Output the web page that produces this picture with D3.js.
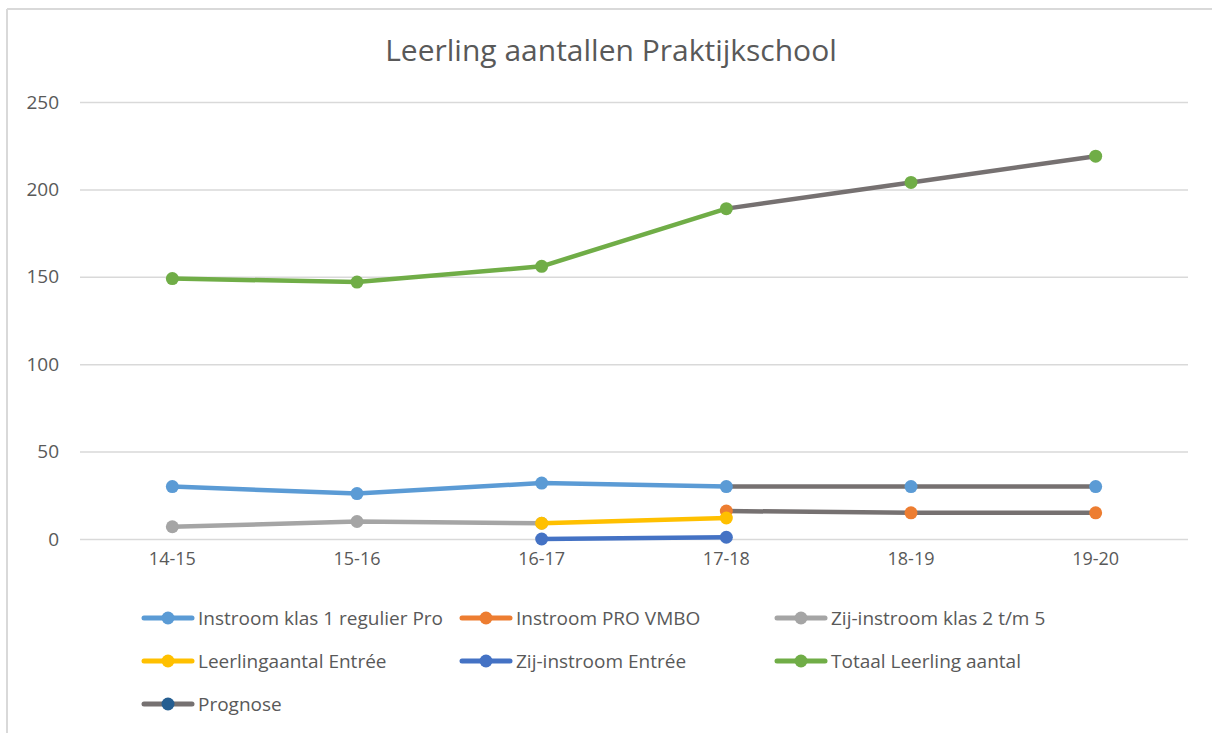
<!DOCTYPE html>
<html>
<head>
<meta charset="utf-8">
<script src="https://cdn.jsdelivr.net/npm/d3@7"></script>
<style>
  body { margin: 0; background: #fff; }
  svg { display: block; font-family: "Open Sans", sans-serif; }
</style>
</head>
<body>
<script>
// data
var years = ["14-15", "15-16", "16-17", "17-18", "18-19", "19-20"];
var yTicks = [0, 50, 100, 150, 200, 250];

var instroomKlas1 = [30, 26, 32, 30, 30, 30];
var instroomProVmbo = [null, null, null, 16, 15, 15];
var zijInstroomKlas2 = [7, 10, 9, null, null, null];
var leerlingEntree = [null, null, 9, 12, null, null];
var zijInstroomEntree = [null, null, 0, 1, null, null];
var totaal = [149, 147, 156, 189, 204, 219];

// from this year on the values are a forecast (grey line)
var prognoseFrom = 3;

var names = ["Instroom klas 1 regulier Pro", "Instroom PRO VMBO", "Zij-instroom klas 2 t/m 5",
             "Leerlingaantal Entrée", "Zij-instroom Entrée", "Totaal Leerling aantal", "Prognose"];
var colors = ["#5B9BD5", "#ED7D31", "#A5A5A5", "#FFC000", "#4472C4", "#70AD47", "#767171"];
var prognoseMarker = "#255E91";

var allSeries = [instroomKlas1, instroomProVmbo, zijInstroomKlas2, leerlingEntree, zijInstroomEntree, totaal];

var W = 1212, H = 733;
var svg = d3.select("body").append("svg").attr("width", W).attr("height", H);

// frame (only top and left visible)
svg.append("line").attr("x1", 7).attr("x2", W).attr("y1", 9).attr("y2", 9)
  .attr("stroke", "#d9d9d9").attr("stroke-width", 2);
svg.append("line").attr("x1", 7).attr("x2", 7).attr("y1", 9).attr("y2", H)
  .attr("stroke", "#d9d9d9").attr("stroke-width", 2);

svg.append("text")
  .attr("x", 611).attr("y", 61)
  .attr("text-anchor", "middle")
  .attr("fill", "#595959")
  .style("font-size", "30px")
  .text("Leerling aantallen Praktijkschool");

var x = d3.scaleBand().domain(years).range([80, 1188]);
var y = d3.scaleLinear().domain([0, 250]).range([539, 102]);

var yAxis = svg.append("g")
  .attr("transform", "translate(80,0)")
  .call(d3.axisLeft(y).tickValues(yTicks).tickSize(-1108).tickPadding(21));
yAxis.select(".domain").remove();
yAxis.selectAll(".tick line").attr("stroke", "#d9d9d9").attr("stroke-width", 1.5);
yAxis.selectAll(".tick text").attr("fill", "#595959").style("font-size", "19px")
  .style("font-family", "Open Sans, sans-serif");

var xAxis = svg.append("g")
  .attr("transform", "translate(0,539)")
  .call(d3.axisBottom(x).tickSize(0).tickPadding(13));
xAxis.select(".domain").remove();
xAxis.selectAll(".tick text").attr("fill", "#595959").style("font-size", "18px")
  .style("font-family", "Open Sans, sans-serif");

function cx(i) { return x(years[i]) + x.bandwidth() / 2; }

var actualLine = d3.line()
  .defined(function(d, i) { return d != null && i <= prognoseFrom; })
  .x(function(d, i) { return cx(i); })
  .y(function(d) { return y(d); });

var prognoseLine = d3.line()
  .defined(function(d, i) { return d != null && i >= prognoseFrom; })
  .x(function(d, i) { return cx(i); })
  .y(function(d) { return y(d); });

var plot = svg.append("g");

allSeries.forEach(function(vals, s) {
  var g = plot.append("g");
  g.append("path").datum(vals)
    .attr("d", actualLine)
    .attr("fill", "none")
    .attr("stroke", colors[s])
    .attr("stroke-width", 4.5)
    .attr("stroke-linejoin", "round")
    .attr("stroke-linecap", "round");
  // only draw the grey forecast part if there is more than one point
  var forecastPts = vals.filter(function(d, i) { return d != null && i >= prognoseFrom; });
  if (forecastPts.length > 1) {
    g.append("path").datum(vals)
      .attr("d", prognoseLine)
      .attr("fill", "none")
      .attr("stroke", colors[6])
      .attr("stroke-width", 4.5)
      .attr("stroke-linejoin", "round");
  }
  g.selectAll("circle")
    .data(vals.map(function(d, i) { return {v: d, i: i}; }).filter(function(p) { return p.v != null; }))
    .enter().append("circle")
    .attr("cx", function(p) { return cx(p.i); })
    .attr("cy", function(p) { return y(p.v); })
    .attr("r", 6.5)
    .attr("fill", colors[s]);
});

// legend
var legX = [142, 460, 775];
var legY = [618, 661, 704];

var legend = svg.append("g");
names.forEach(function(name, i) {
  var lx = legX[i % 3], ly = legY[Math.floor(i / 3)];
  var item = legend.append("g").attr("transform", "translate(" + lx + "," + ly + ")");
  item.append("line")
    .attr("x1", 2).attr("x2", 50).attr("y1", 0).attr("y2", 0)
    .attr("stroke", colors[i]).attr("stroke-width", 5).attr("stroke-linecap", "round");
  item.append("circle").attr("cx", 26).attr("cy", 0).attr("r", 6.5)
    .attr("fill", i == 6 ? prognoseMarker : colors[i]);
  item.append("text")
    .attr("x", 56).attr("y", 0).attr("dy", "0.35em")
    .attr("fill", "#595959")
    .style("font-size", "19px")
    .text(name);
});
</script>
</body>
</html>
